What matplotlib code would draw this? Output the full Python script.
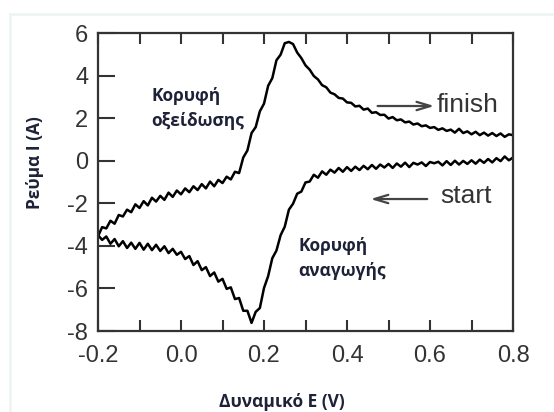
import numpy as np
import matplotlib.pyplot as plt
from matplotlib.lines import Line2D
from matplotlib.ticker import MultipleLocator

# reverse sweep, 0.8 V -> -0.2 V (step 0.01 V)
E_rev = np.linspace(0.8, -0.2, 101)
I_rev = [
    0.15, 0.02, 0.20, -0.02, 0.12, -0.08, 0.08, -0.10, 0.05, -0.14,
    0.02, -0.15, -0.01, -0.18, 0.00, -0.20, -0.02, -0.22, -0.05, -0.12,
    -0.06, -0.25, -0.08, -0.18, -0.10, -0.30, -0.09, -0.28, -0.13, -0.34,
    -0.15, -0.32, -0.18, -0.38, -0.20, -0.40, -0.24, -0.44, -0.28, -0.48,
    -0.30, -0.52, -0.34, -0.56, -0.42, -0.66, -0.50, -0.80, -0.66, -0.98,
    -1.02, -1.45, -1.55, -2.02, -2.30, -3.10, -3.50, -4.22, -4.58, -5.42,
    -5.98, -6.92, -7.10, -7.62, -7.05, -7.05, -6.45, -6.50, -5.95, -6.02,
    -5.55, -5.68, -5.25, -5.42, -5.00, -5.14, -4.72, -4.90, -4.48, -4.62,
    -4.28, -4.42, -4.14, -4.34, -4.02, -4.24, -3.95, -4.20, -3.90, -4.18,
    -3.86, -4.14, -3.85, -4.10, -3.78, -4.02, -3.68, -3.90, -3.56, -3.72,
    -3.50]

# forward sweep, -0.2 V -> 0.8 V
E_fwd = np.linspace(-0.2, 0.8, 101)
I_fwd = [
    -3.55, -3.12, -3.18, -2.82, -2.96, -2.55, -2.62, -2.30, -2.42, -2.05,
    -2.22, -1.90, -2.10, -1.74, -1.92, -1.65, -1.84, -1.50, -1.70, -1.40,
    -1.58, -1.30, -1.48, -1.20, -1.38, -1.10, -1.30, -0.98, -1.20, -0.90,
    -1.05, -0.75, -0.88, -0.52, -0.58, 0.15, 0.48, 1.30, 1.58, 2.32,
    2.68, 3.52, 3.88, 4.72, 4.98, 5.52, 5.58, 5.48, 5.08, 4.82,
    4.48, 4.28, 3.98, 3.82, 3.55, 3.45, 3.20, 3.12, 2.95, 2.92,
    2.74, 2.72, 2.55, 2.58, 2.40, 2.45, 2.25, 2.28, 2.15, 2.16,
    1.98, 2.05, 1.90, 1.94, 1.80, 1.84, 1.70, 1.75, 1.62, 1.66,
    1.54, 1.58, 1.45, 1.52, 1.40, 1.46, 1.32, 1.50, 1.30, 1.38,
    1.24, 1.36, 1.20, 1.32, 1.18, 1.30, 1.16, 1.28, 1.12, 1.24,
    1.20]

E = np.concatenate([E_rev, E_fwd])
I = np.concatenate([I_rev, I_fwd])

x_ticks = [-0.2, 0.0, 0.2, 0.4, 0.6, 0.8]
y_ticks = [-8, -6, -4, -2, 0, 2, 4, 6]

lab_col = "#1e2238"
tick_col = "#333333"

fig = plt.figure(figsize=(5.54, 4.12), dpi=100)
# faint frame around the picture
fig.add_artist(Line2D([10/554, 1], [1-13.5/412, 1-13.5/412], transform=fig.transFigure,
                      color="#eef5f5", lw=2))
fig.add_artist(Line2D([10/554, 10/554], [0, 1-13.5/412], transform=fig.transFigure,
                      color="#eef5f5", lw=2))

ax = fig.add_axes([98/554, 1-331/412, 415/554, 298/412])
ax.plot(E, I, color="black", lw=1.8)

ax.set_xlim(-0.2, 0.8)
ax.set_ylim(-8, 6)
ax.set_xticks(x_ticks)
ax.set_xticklabels(["%.1f" % v for v in x_ticks])
ax.xaxis.set_minor_locator(MultipleLocator(0.1))
ax.set_yticks(y_ticks)
ax.set_yticklabels([str(v) for v in y_ticks])
ax.tick_params(axis="x", which="both", direction="in", top=True, length=8, width=1.5,
               color="#333333", labelsize=17, labelcolor=tick_col, pad=10)
ax.tick_params(axis="y", which="both", direction="in", right=False, length=12, width=1.5,
               color="#333333", labelsize=17, labelcolor=tick_col, pad=7)
for lbl in ax.get_xticklabels() + ax.get_yticklabels():
    lbl.set_family("Liberation Sans")
for s in ax.spines.values():
    s.set_linewidth(1.6)
    s.set_color("#333333")

# sweep direction markers
ax.annotate("", xy=(0.617, 2.57), xytext=(0.467, 2.57),
            arrowprops=dict(arrowstyle="->,head_length=1.0,head_width=0.3", color="#444444", lw=1.6))
ax.text(0.617, 2.6, "finish", fontsize=19, color=tick_col, va="center", family="Liberation Sans")
ax.annotate("", xy=(0.45, -1.8), xytext=(0.60, -1.8),
            arrowprops=dict(arrowstyle="->,head_length=1.0,head_width=0.3", color="#444444", lw=1.6))
ax.text(0.624, -1.65, "start", fontsize=19, color=tick_col, va="center", family="Liberation Sans")

# peak labels
ax.text(-0.072, 2.45, "Κορυφή\nοξείδωσης", fontsize=12.5, fontweight="bold", color=lab_col,
        va="center", ha="left", linespacing=1.55, family="Open Sans")
ax.text(0.282, -4.6, "Κορυφή\nαναγωγής", fontsize=12.5, fontweight="bold", color=lab_col,
        va="center", ha="left", linespacing=1.55, family="Open Sans")

fig.text(35/554, 1-163/412, "Ρεύμα I (A)", rotation=90, fontsize=12.5, fontweight="bold",
         color=lab_col, ha="center", va="center", family="Open Sans")
fig.text(282/554, 1-402/412, "Δυναμικό E (V)", fontsize=12.5, fontweight="bold",
         color=lab_col, ha="center", va="center", family="Open Sans")

fig.savefig("out.png", dpi=100, facecolor="white")
